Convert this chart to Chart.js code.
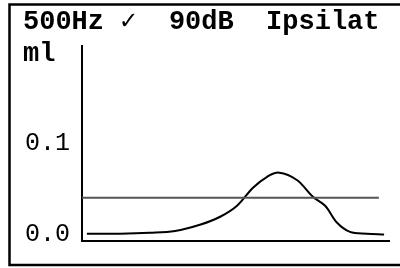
<!DOCTYPE html>
<html>
<head>
<meta charset="utf-8">
<script src="https://cdn.jsdelivr.net/npm/chart.js@4"></script>
<style>
  html, body { margin: 0; padding: 0; background: #fff; }
  #wrap { width: 400px; height: 268px; }
</style>
</head>
<body>
<div id="wrap"><canvas id="c" width="400" height="268"></canvas></div>
<script>
// Data
const titleText = "500Hz \u2713  90dB  Ipsilat";
const unitText = "ml";
const pressure = [1.6, 12.4, 22.1, 30.3, 38.4, 45, 50.5, 55.7, 60.3, 64.2, 70, 75.2, 79.2, 83.1, 87.3, 92.8, 98.4];
const compliance = [-0.001, -0.001, 0.0, 0.002, 0.0088, 0.0176, 0.0297, 0.0495, 0.0615, 0.066, 0.058, 0.0396, 0.0297, 0.011, 0.001, -0.001, -0.002];
const thresholdX = [0, 96.7];
const thresholdY = [0.0385, 0.0385];
const yTicks = [0.0, 0.1];

const curvePts = pressure.map((x, i) => ({x: x, y: compliance[i]}));
const threshPts = thresholdX.map((x, i) => ({x: x, y: thresholdY[i]}));

const MONO = "'Liberation Mono', 'DejaVu Sans Mono', monospace";

const frame = {
  id: 'frame',
  beforeDraw(chart) {
    const ctx = chart.ctx;
    ctx.save();
    ctx.fillStyle = '#fff';
    ctx.fillRect(0, 0, chart.width, chart.height);
    ctx.strokeStyle = '#000';
    ctx.lineWidth = 2.5;
    ctx.strokeRect(9.5, 4.5, 400, 260.5);
    ctx.restore();
  }
};

new Chart(document.getElementById('c'), {
  type: 'line',
  data: {
    datasets: [
      { data: threshPts, borderColor: '#555', borderWidth: 2, pointRadius: 0, tension: 0, fill: false },
      { data: curvePts, borderColor: '#000', borderWidth: 2, pointRadius: 0, tension: 0.35, fill: false }
    ]
  },
  options: {
    responsive: false,
    animation: false,
    events: [],
    layout: { padding: { left: 23, right: 11, top: 0, bottom: 27 } },
    plugins: {
      legend: { display: false },
      tooltip: { enabled: false },
      title: {
        display: true, text: titleText, align: 'start', color: '#000',
        font: { family: MONO, size: 27, weight: 'bold', lineHeight: '32px' },
        padding: { top: 6, bottom: 0 }
      },
      subtitle: {
        display: true, text: unitText, align: 'start', color: '#000',
        font: { family: MONO, size: 27, weight: 'bold', lineHeight: '32px' },
        padding: { top: 0, bottom: -24 }
      }
    },
    scales: {
      x: {
        type: 'linear', min: 0, max: 100,
        grid: { display: false, drawTicks: false },
        border: { display: true, color: '#000', width: 2 },
        ticks: { display: false }
      },
      y: {
        type: 'linear', min: -0.009, max: 0.205,
        grid: { display: false, drawTicks: false },
        border: { display: true, color: '#000', width: 2 },
        afterBuildTicks(scale) { scale.ticks = yTicks.map(v => ({ value: v })); },
        afterFit(scale) { scale.width = 59; },
        ticks: {
          color: '#000', padding: 12, labelOffset: 2,
          font: { family: MONO, size: 25, weight: 'normal' },
          callback: v => Number(v).toFixed(1)
        }
      }
    }
  },
  plugins: [frame]
});
</script>
</body>
</html>
